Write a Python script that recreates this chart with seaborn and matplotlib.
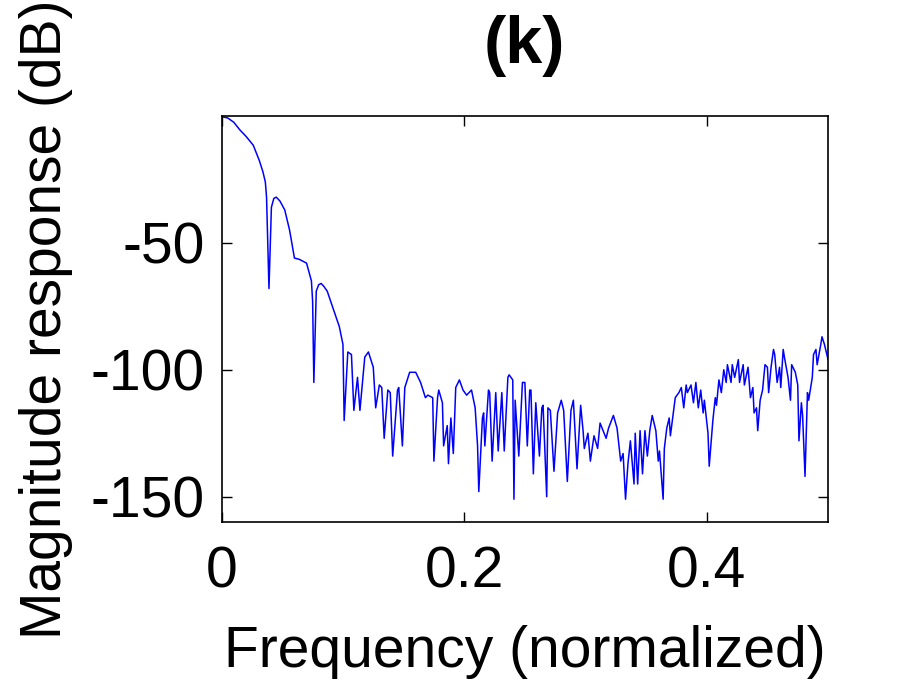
import pandas as pd
import matplotlib
matplotlib.use("Agg")
import matplotlib.pyplot as plt
import seaborn as sns

# magnitude response
freq = [0.000, 0.005, 0.010, 0.015, 0.020, 0.026, 0.031, 0.034, 0.036, 0.037,
        0.039, 0.041, 0.043, 0.045, 0.048, 0.052,
        0.056, 0.060, 0.064, 0.066, 0.070, 0.074, 0.075, 0.076, 0.078, 0.080,
        0.082, 0.084, 0.087,
        0.092, 0.097, 0.100, 0.101, 0.104, 0.107, 0.109, 0.112, 0.114, 0.118,
        0.121, 0.125, 0.127, 0.130, 0.132, 0.134, 0.137, 0.139, 0.141, 0.145,
        0.146, 0.149, 0.151, 0.155, 0.160, 0.164, 0.168, 0.170, 0.174, 0.175,
        0.178, 0.179, 0.182, 0.183, 0.186, 0.187, 0.189, 0.191, 0.193, 0.196,
        0.199, 0.202, 0.206, 0.209, 0.211, 0.212, 0.215, 0.216, 0.217, 0.220,
        0.221, 0.223, 0.226, 0.228, 0.231, 0.233, 0.236, 0.237, 0.240, 0.241,
        0.242, 0.245, 0.248, 0.250, 0.252, 0.254, 0.255, 0.257, 0.259, 0.262,
        0.264, 0.265, 0.268, 0.269, 0.271, 0.274, 0.277, 0.280, 0.282, 0.285,
        0.288, 0.290, 0.293, 0.296, 0.298, 0.299, 0.302, 0.304, 0.307, 0.310,
        0.312, 0.317, 0.319, 0.323, 0.326, 0.329, 0.331, 0.333, 0.335, 0.337,
        0.340, 0.341, 0.343, 0.345, 0.347, 0.349, 0.351, 0.353, 0.355, 0.358,
        0.360, 0.361, 0.364, 0.365, 0.367, 0.369, 0.370, 0.373, 0.374, 0.377,
        0.379, 0.381, 0.383, 0.384, 0.387, 0.389, 0.391, 0.393, 0.395, 0.397,
        0.398, 0.401, 0.402, 0.405, 0.407, 0.408, 0.410, 0.412, 0.414, 0.416,
        0.417, 0.420, 0.421, 0.423, 0.426, 0.427, 0.430, 0.431, 0.434, 0.436,
        0.438, 0.439, 0.441, 0.442, 0.444, 0.446, 0.448, 0.450, 0.451, 0.453,
        0.455, 0.456, 0.458, 0.460, 0.461, 0.463, 0.464, 0.467, 0.469, 0.470,
        0.473, 0.475, 0.476, 0.478, 0.479, 0.481, 0.483, 0.484, 0.487, 0.488,
        0.490, 0.491, 0.494, 0.495, 0.497, 0.500]
mag_db = [-0.3, -0.8, -2.5, -5.5, -8, -11.5, -17.5, -22, -26, -32,
          -68, -36, -32.5, -32, -33.5, -37,
          -45, -56, -56.5, -57, -58, -65, -73, -105, -69, -66.5,
          -66, -67, -69,
          -76, -83, -90, -120, -93, -94, -116, -103, -116, -95,
          -93, -99, -115, -106, -107, -127, -108, -109, -134, -108,
          -107, -130, -107, -101, -101, -105, -111, -110, -111, -136,
          -111, -108, -113, -130, -122, -137, -119, -133, -107, -104,
          -108, -110, -108, -115, -130, -148, -119, -117, -130, -108,
          -109, -136, -109, -132, -109, -132, -103, -102, -104, -151,
          -112, -134, -105, -105, -130, -108, -108, -141, -113, -134,
          -115, -114, -150, -115, -116, -140, -117, -112, -116, -144,
          -116, -112, -139, -114, -124, -131, -125, -136, -126, -131,
          -121, -127, -123, -118, -123, -136, -133, -151, -137, -128,
          -145, -125, -145, -124, -141, -124, -134, -124, -118, -124,
          -136, -132, -151, -131, -123, -119, -126, -115, -111, -109,
          -107, -115, -106, -109, -106, -113, -105, -115, -108, -117,
          -112, -125, -138, -120, -111, -114, -104, -109, -100, -105,
          -98, -105, -98, -103, -96, -105, -98, -106, -99, -111,
          -107, -117, -115, -124, -112, -108, -98, -99, -109, -99,
          -92, -94, -105, -99, -107, -92, -95, -103, -112, -98,
          -101, -106, -128, -113, -118, -142, -109, -112, -103, -94,
          -92, -98, -90, -87, -90, -96]

xticks = [0, 0.2, 0.4]
xtick_labels = ["0", "0.2", "0.4"]
yticks = [-150, -100, -50]

df = pd.DataFrame({"freq": freq, "mag": mag_db})

sns.set_style("white")
plt.rcParams["font.family"] = ["Liberation Sans", "DejaVu Sans"]
plt.rcParams["axes.unicode_minus"] = False
plt.rcParams["text.color"] = "black"
plt.rcParams["axes.labelcolor"] = "black"
plt.rcParams["xtick.color"] = "black"
plt.rcParams["ytick.color"] = "black"

fig = plt.figure(figsize=(9.16, 6.86), dpi=100)
ax = fig.add_axes([0.242, 0.239, 0.662, 0.592])

sns.lineplot(data=df, x="freq", y="mag", estimator=None, sort=False,
             color="#0000ff", linewidth=1.1, ax=ax)

ax.set_xlim(0, 0.5)
ax.set_ylim(-160, 0)
ax.set_xticks(xticks)
ax.set_xticklabels(xtick_labels)
ax.set_yticks(yticks)
ax.tick_params(direction="in", length=7, width=1, labelsize=41,
               top=True, right=True, bottom=True, left=True)
ax.tick_params(axis="x", pad=17)
ax.tick_params(axis="y", pad=12)
for s in ax.spines.values():
    s.set_color("black")
    s.set_linewidth(1.2)

ax.set_xlabel("Frequency (normalized)", fontsize=41, labelpad=18)
ax.set_ylabel("Magnitude response (dB)", fontsize=41, labelpad=13)
ax.set_title("(k)", fontsize=48, fontweight="bold", pad=38)

fig.savefig("out.png", dpi=100, facecolor="white")
